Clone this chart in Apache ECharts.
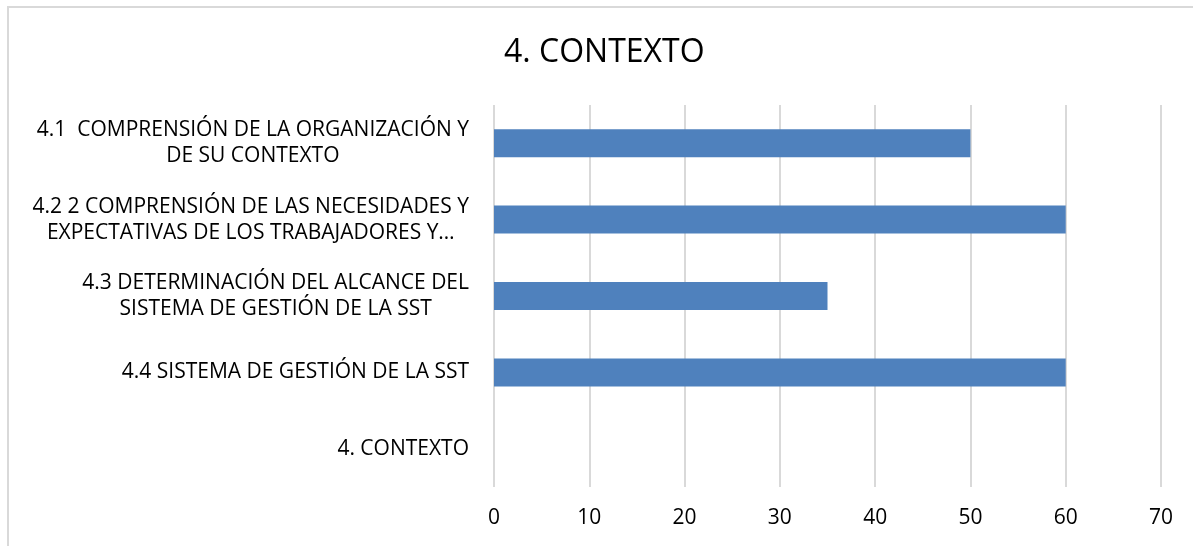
<!DOCTYPE html>
<html>
<head>
<meta charset="utf-8">
<script src="https://cdn.jsdelivr.net/npm/echarts@6/dist/echarts.min.js"></script>
<style>
  html, body { margin: 0; padding: 0; background: #fff; overflow: hidden; }
  #chart { width: 1193px; height: 546px; }
  #frame {
    position: absolute; left: 7px; top: 6px; width: 1300px; height: 700px;
    border-left: 2px solid #d9d9d9; border-top: 2px solid #d9d9d9;
    pointer-events: none;
  }
</style>
</head>
<body>
<div id="chart"></div>
<div id="frame"></div>
<script>
const categories = [
  '4.1  COMPRENSIÓN DE LA ORGANIZACIÓN Y\nDE SU CONTEXTO',
  '4.2 2 COMPRENSIÓN DE LAS NECESIDADES Y\nEXPECTATIVAS DE LOS TRABAJADORES Y…',
  '4.3 DETERMINACIÓN DEL ALCANCE DEL\nSISTEMA DE GESTIÓN DE LA SST',
  '4.4 SISTEMA DE GESTIÓN DE LA SST',
  '4. CONTEXTO'
]
const values = [50, 60, 35, 60, 0]
const xTicks = [0, 10, 20, 30, 40, 50, 60, 70]

const font = 'Open Sans, sans-serif'
const chart = echarts.init(document.getElementById('chart'))

chart.setOption({
  backgroundColor: 'transparent',
  animation: false,
  title: {
    text: '4. CONTEXTO',
    left: 499,
    top: 32,
    textStyle: { color: '#000', fontSize: 32, fontWeight: 'normal', fontFamily: font },
  },
  grid: { left: 494, right: 32, top: 105, bottom: 59 },
  xAxis: {
    type: 'value',
    min: xTicks[0],
    max: xTicks[xTicks.length - 1],
    interval: 10,
    axisLine: { show: false },
    axisTick: { show: false },
    axisLabel: { color: '#000', fontSize: 21, fontFamily: font, margin: 21 },
    splitLine: { lineStyle: { color: '#d9d9d9', width: 2 } },
  },
  yAxis: {
    type: 'category',
    inverse: true,
    data: categories,
    axisLine: { show: false },
    axisTick: { show: false },
    axisLabel: {
      margin: 25,
      align: 'right',
      formatter: v => v.split('\n').map(s => '{a|' + s + '}').join('\n'),
      rich: {
        a: { color: '#000', fontSize: 21, fontFamily: font, lineHeight: 26, align: 'center' },
      },
    },
  },
  series: [
    {
      type: 'bar',
      data: values,
      barWidth: 28,
      itemStyle: { color: '#4f81bd' },
    },
  ],
})
</script>
</body>
</html>
